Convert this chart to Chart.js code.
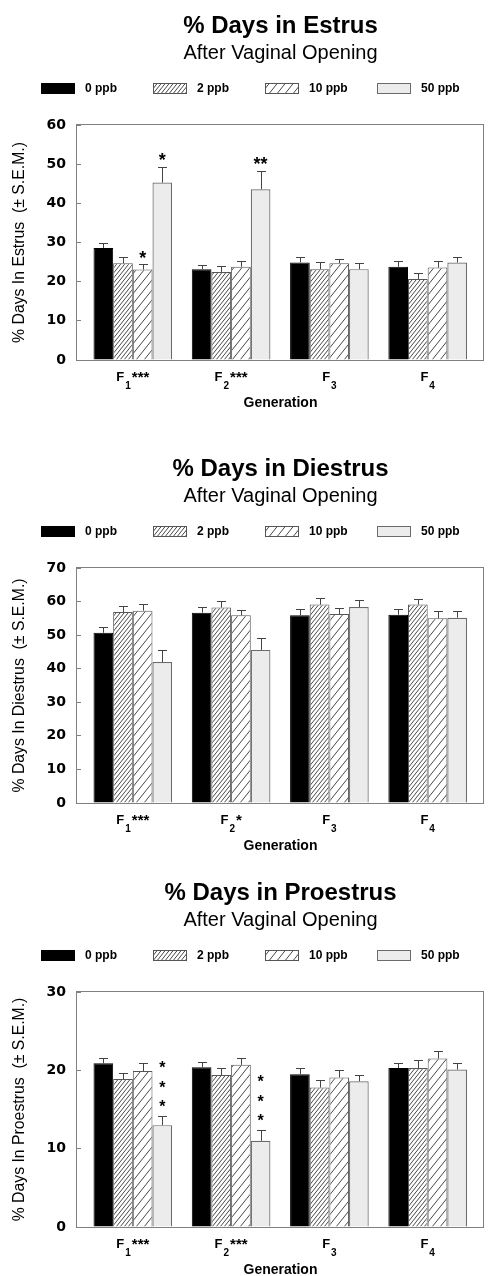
<!DOCTYPE html>
<html>
<head>
<meta charset="utf-8">
<script src="https://cdn.jsdelivr.net/npm/chart.js@4/dist/chart.umd.min.js"></script>
<style>
  html, body { margin: 0; padding: 0; background: #fff; overflow: hidden; }
  .panel { position: absolute; left: 0; width: 491px; height: 411px; }
</style>
</head>
<body>
<div class="panel" style="top:0px"><canvas id="estrus" width="491" height="411"></canvas></div>
<div class="panel" style="top:443px"><canvas id="diestrus" width="491" height="411"></canvas></div>
<div class="panel" style="top:867px"><canvas id="proestrus" width="491" height="411"></canvas></div>
<script>
// ---- data -------------------------------------------------------------
const generations = ['F1', 'F2', 'F3', 'F4'];
const doses = ['0 ppb', '2 ppb', '10 ppb', '50 ppb'];

// % days in estrus (mean, S.E.M.)
const estrus0  = [28.6, 23.2, 24.9, 23.8];
const estrus2  = [24.7, 22.5, 23.2, 20.7];
const estrus10 = [23.1, 23.8, 24.7, 23.6];
const estrus50 = [45.3, 43.6, 23.2, 24.9];
const estrusSem0  = [1.4, 1.1, 1.3, 1.5];
const estrusSem2  = [1.5, 1.6, 1.7, 1.4];
const estrusSem10 = [1.3, 1.5, 1.1, 1.7];
const estrusSem50 = [4.1, 4.7, 1.5, 1.3];
const estrusMarks10 = ['*', '', '', ''];
const estrusMarks50 = ['*', '**', '', ''];
const estrusGenMarks = ['***', '***', '', ''];

// % days in diestrus
const diestrus0  = [50.7, 56.7, 55.9, 56.1];
const diestrus2  = [56.9, 58.2, 59.1, 59.1];
const diestrus10 = [57.3, 55.9, 56.3, 55.0];
const diestrus50 = [42.0, 45.6, 58.4, 55.2];
const diestrusSem0  = [1.6, 1.6, 1.9, 1.8];
const diestrusSem2  = [1.8, 2.0, 2.0, 1.8];
const diestrusSem10 = [2.0, 1.6, 1.7, 2.2];
const diestrusSem50 = [3.6, 3.5, 2.0, 2.0];
const diestrusGenMarks = ['***', '*', '', ''];

// % days in proestrus
const proestrus0  = [20.9, 20.4, 19.5, 20.3];
const proestrus2  = [18.9, 19.4, 17.8, 20.3];
const proestrus10 = [19.9, 20.7, 19.1, 21.5];
const proestrus50 = [13.0, 11.0, 18.6, 20.1];
const proestrusSem0  = [0.7, 0.7, 0.8, 0.7];
const proestrusSem2  = [0.8, 0.9, 1.0, 1.0];
const proestrusSem10 = [1.1, 0.9, 0.9, 1.0];
const proestrusSem50 = [1.2, 1.4, 0.8, 0.9];
const proestrusMarks50 = ['***', '***', '', ''];
const proestrusGenMarks = ['***', '***', '', ''];

const yTicksEstrus = { max: 60, step: 10 };
const yTicksDiestrus = { max: 70, step: 10 };
const yTicksProestrus = { max: 30, step: 10 };

// ---- styling ----------------------------------------------------------
const FONT = "'Liberation Sans', Arial, Helvetica, sans-serif";
Chart.defaults.font.family = FONT;
Chart.defaults.color = '#000';

function hatch(w, h, color) {
  const c = document.createElement('canvas');
  c.width = w; c.height = h;
  const g = c.getContext('2d');
  g.fillStyle = '#fff';
  g.fillRect(0, 0, w, h);
  g.strokeStyle = color;
  g.lineWidth = 0.9;
  g.beginPath();
  for (let k = -1; k <= 1; k++) {
    g.moveTo(-w + k * w, 2 * h);
    g.lineTo(2 * w + k * w, -h);
  }
  g.stroke();
  return document.createElement('canvas').getContext('2d').createPattern(c, 'repeat');
}
const fills = ['#000000', hatch(4, 5, '#333'), hatch(8, 10, '#333'), '#ececec'];
const borders = ['#000000', '#555555', '#555555', '#6a6a6a'];
const borderWidths = [1, 1, 1, 1.2];

// ---- plugins ----------------------------------------------------------
const framePlugin = {
  id: 'plotFrame',
  afterDatasetsDraw(chart) {
    const { ctx, chartArea: a } = chart;
    ctx.save();
    ctx.strokeStyle = '#808080';
    ctx.lineWidth = 1;
    ctx.strokeRect(a.left - 0.5, a.top - 0.5, a.right - a.left, a.bottom - a.top + 1);
    ctx.restore();
  }
};

const errorBarPlugin = {
  id: 'semBars',
  afterDatasetsDraw(chart) {
    const { ctx } = chart;
    const y = chart.scales.y;
    const cfg = chart.options.plugins.semBars;
    ctx.save();
    ctx.strokeStyle = '#444';
    ctx.lineWidth = 1;
    chart.data.datasets.forEach((ds, di) => {
      const meta = chart.getDatasetMeta(di);
      meta.data.forEach((bar, i) => {
        const top = y.getPixelForValue(ds.data[i].y + ds.sem[i]);
        const x = Math.round(bar.x) + 0.5;
        const yt = Math.round(top) + 0.5;
        ctx.beginPath();
        ctx.moveTo(x, bar.y);
        ctx.lineTo(x, yt);
        ctx.moveTo(x - 4.5, yt);
        ctx.lineTo(x + 4.5, yt);
        ctx.stroke();
        // significance marks over the error bar
        const mark = ds.marks ? ds.marks[i] : '';
        if (mark) {
          ctx.fillStyle = '#000';
          ctx.textAlign = 'center';
          ctx.textBaseline = 'alphabetic';
          if (cfg.stacked) {
            ctx.font = 'bold 16px ' + FONT;
            for (let s = 0; s < mark.length; s++) {
              const cy = top - 13 - s * 19.5;
              ctx.fillText('*', bar.x, cy + 0.58 * 16);
            }
          } else {
            ctx.font = 'bold 18px ' + FONT;
            const cy = top - 11;
            ctx.fillText(mark, bar.x, cy + 0.58 * 18);
          }
        }
      });
    });
    ctx.restore();
  }
};

const genLabelPlugin = {
  id: 'genLabels',
  afterDraw(chart) {
    const { ctx, chartArea } = chart;
    const xs = chart.scales.x;
    const cfg = chart.options.plugins.genLabels;
    ctx.save();
    ctx.fillStyle = '#000';
    ctx.textAlign = 'left';
    ctx.textBaseline = 'alphabetic';
    const base = chartArea.bottom + 21;
    cfg.labels.forEach((lab, i) => {
      const main = lab.charAt(0), sub = lab.slice(1), sup = cfg.marks[i];
      ctx.font = 'bold 13px ' + FONT;
      const wMain = ctx.measureText(main).width;
      ctx.font = 'bold 10px ' + FONT;
      const wSub = ctx.measureText(sub).width;
      ctx.font = 'bold 15px ' + FONT;
      const wSup = sup ? ctx.measureText(sup).width : 0;
      const total = wMain + 1 + wSub + (sup ? 1 + wSup : 0);
      let x = xs.getPixelForValue(i) - total / 2;
      ctx.font = 'bold 13px ' + FONT;
      ctx.fillText(main, x, base);
      x += wMain + 1;
      ctx.font = 'bold 10px ' + FONT;
      ctx.fillText(sub, x, base + 8);
      x += wSub + 1;
      if (sup) {
        ctx.font = 'bold 15px ' + FONT;
        ctx.fillText(sup, x, base + 1);
      }
    });
    ctx.restore();
  }
};

const legendPlugin = {
  id: 'doseLegend',
  afterDraw(chart) {
    const { ctx } = chart;
    const o = chart.options.plugins.doseLegend;
    ctx.save();
    chart.data.datasets.forEach((ds, k) => {
      const x = o.left + k * o.pitch;
      const y = o.top;
      ctx.fillStyle = ds.backgroundColor;
      ctx.fillRect(x, y, o.boxW, o.boxH);
      ctx.strokeStyle = ds.borderColor;
      ctx.lineWidth = 1;
      ctx.strokeRect(x + 0.5, y + 0.5, o.boxW - 1, o.boxH - 1);
      ctx.fillStyle = '#000';
      ctx.font = 'bold 12px ' + FONT;
      ctx.textAlign = 'left';
      ctx.textBaseline = 'middle';
      ctx.fillText(ds.label, x + o.boxW + 10, y + o.boxH / 2 + 0.5);
    });
    ctx.restore();
  }
};

// ---- charts -----------------------------------------------------------
function drawPanel(id, title, yTitle, yTicks, means, sems, marks, genMarks, stacked) {
  const datasets = doses.map((d, k) => ({
    label: d,
    data: means[k].map((v, i) => ({ x: i, y: v })),
    sem: sems[k],
    marks: marks[k],
    backgroundColor: fills[k],
    borderColor: borders[k],
    borderWidth: borderWidths[k],
    categoryPercentage: 0.8,
    barPercentage: 1.0
  }));
  return new Chart(document.getElementById(id), {
    type: 'bar',
    data: { datasets },
    plugins: [framePlugin, errorBarPlugin, genLabelPlugin, legendPlugin],
    options: {
      responsive: false,
      animation: false,
      layout: { padding: { left: 0, right: 7, top: 0, bottom: 0 } },
      plugins: {
        legend: { display: false },
        tooltip: { enabled: false },
        title: {
          display: true, text: title, fullSize: false, color: '#000',
          font: { size: 24, weight: 'bold', lineHeight: 1.2 },
          padding: { top: 12, bottom: 0 }
        },
        subtitle: {
          display: true, text: 'After Vaginal Opening', fullSize: false, color: '#000',
          font: { size: 20, weight: 'normal', lineHeight: 1.2 },
          padding: { top: 1, bottom: 59.2 }
        },
        semBars: { stacked },
        genLabels: { labels: generations, marks: genMarks },
        doseLegend: { left: 41, pitch: 112, top: 83, boxW: 34, boxH: 11 }
      },
      scales: {
        x: {
          type: 'linear', min: -0.568, max: 3.573, offset: false,
          grid: { display: false },
          border: { display: false },
          ticks: { display: false },
          afterBuildTicks(scale) {
            scale.ticks = generations.map((g, i) => ({ value: i }));
          },
          title: {
            display: true, text: 'Generation', color: '#000',
            font: { size: 14, weight: 'bold', lineHeight: 1 },
            padding: { top: 0, bottom: 1 }
          },
          afterFit(scale) { scale.height = 51; }
        },
        y: {
          min: 0, max: yTicks.max,
          ticks: {
            stepSize: yTicks.step, color: '#000', padding: 15,
            font: { family: "'DejaVu Sans', sans-serif", size: 14, weight: 'bold' }
          },
          grid: { drawOnChartArea: false, drawTicks: true, tickLength: -4, color: '#808080' },
          border: { display: false },
          title: {
            display: true, text: yTitle, color: '#000',
            font: { size: 15.8, weight: 'normal', lineHeight: 1.2 },
            padding: { top: 10.5, bottom: 0 }
          },
          afterFit(scale) { scale.width = 77; }
        }
      }
    }
  });
}

drawPanel('estrus', '% Days in Estrus', '% Days In Estrus  (\u00B1 S.E.M.)', yTicksEstrus,
  [estrus0, estrus2, estrus10, estrus50],
  [estrusSem0, estrusSem2, estrusSem10, estrusSem50],
  [null, null, estrusMarks10, estrusMarks50],
  estrusGenMarks, false);

drawPanel('diestrus', '% Days in Diestrus', '% Days In Diestrus  (\u00B1 S.E.M.)', yTicksDiestrus,
  [diestrus0, diestrus2, diestrus10, diestrus50],
  [diestrusSem0, diestrusSem2, diestrusSem10, diestrusSem50],
  [null, null, null, null],
  diestrusGenMarks, false);

drawPanel('proestrus', '% Days in Proestrus', '% Days In Proestrus  (\u00B1 S.E.M.)', yTicksProestrus,
  [proestrus0, proestrus2, proestrus10, proestrus50],
  [proestrusSem0, proestrusSem2, proestrusSem10, proestrusSem50],
  [null, null, null, proestrusMarks50],
  proestrusGenMarks, true);
</script>
</body>
</html>
